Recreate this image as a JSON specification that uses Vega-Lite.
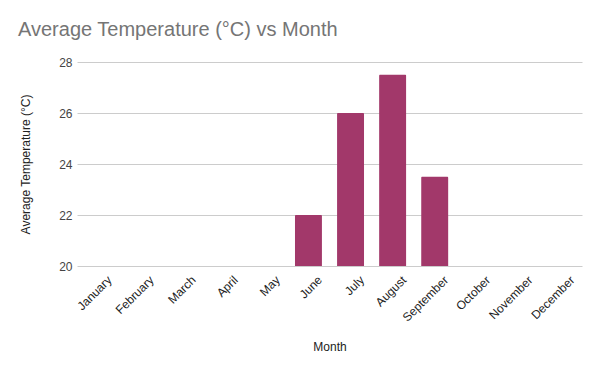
{
  "$schema": "https://vega.github.io/schema/vega-lite/v6.json",
  "autosize": {"type": "none"},
  "width": 505,
  "height": 204,
  "padding": {"left": 77, "top": 62, "right": 18, "bottom": 105},
  "background": "white",
  "config": {
    "font": "Liberation Sans",
    "view": {"stroke": null}
  },
  "title": {
    "text": "Average Temperature (°C) vs Month",
    "anchor": "start",
    "frame": "group",
    "fontSize": 20,
    "fontWeight": "normal",
    "color": "#757575",
    "font": "Liberation Sans",
    "dx": -59,
    "dy": 19,
    "baseline": "bottom",
    "offset": 15
  },
  "data": {
    "values": [
      {"Month": "January", "Temp": null},
      {"Month": "February", "Temp": null},
      {"Month": "March", "Temp": null},
      {"Month": "April", "Temp": null},
      {"Month": "May", "Temp": null},
      {"Month": "June", "Temp": 22},
      {"Month": "July", "Temp": 26},
      {"Month": "August", "Temp": 27.5},
      {"Month": "September", "Temp": 23.5},
      {"Month": "October", "Temp": null},
      {"Month": "November", "Temp": null},
      {"Month": "December", "Temp": null}
    ]
  },
  "mark": {"type": "bar", "color": "#a2386a", "cornerRadiusTopLeft": 1, "cornerRadiusTopRight": 1},
  "encoding": {
    "x": {
      "field": "Month",
      "type": "nominal",
      "sort": null,
      "scale": {
        "domain": ["January","February","March","April","May","June","July","August","September","October","November","December"],
        "paddingInner": 0.36,
        "paddingOuter": 0.18
      },
      "axis": {
        "title": "Month",
        "titleFontSize": 12,
        "titleFontWeight": "normal",
        "titleColor": "#222222",
        "titlePadding": 18,
        "labelAngle": -45,
        "labelFontSize": 12,
        "labelColor": "#222222",
        "labelPadding": 8,
        "labelOffset": 8,
        "domain": false,
        "ticks": false,
        "grid": false
      }
    },
    "y": {
      "field": "Temp",
      "type": "quantitative",
      "scale": {"domain": [20, 28], "zero": false, "nice": false},
      "axis": {
        "title": "Average Temperature (°C)",
        "titleFontSize": 12,
        "titleFontWeight": "normal",
        "titleColor": "#222222",
        "titlePadding": 26,
        "values": [20, 22, 24, 26, 28],
        "labelFontSize": 12,
        "labelColor": "#444444",
        "labelPadding": 5,
        "domain": false,
        "ticks": false,
        "grid": true,
        "gridColor": "#cccccc",
        "gridWidth": 1
      }
    },
    "y2": {"datum": 20}
  }
}
